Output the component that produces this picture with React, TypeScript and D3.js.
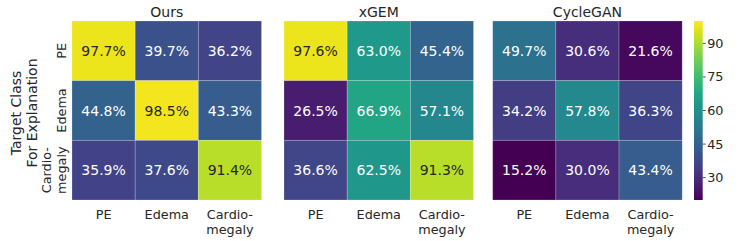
import React from "react";
import * as d3 from "d3";

const methods = ["Ours", "xGEM", "CycleGAN"];
const rowLabels = [["PE"], ["Edema"], ["Cardio-", "megaly"]];
const colLabels = [["PE"], ["Edema"], ["Cardio-", "megaly"]];
const oursValues = [
  [97.7, 39.7, 36.2],
  [44.8, 98.5, 43.3],
  [35.9, 37.6, 91.4],
];
const xgemValues = [
  [97.6, 63.0, 45.4],
  [26.5, 66.9, 57.1],
  [36.6, 62.5, 91.3],
];
const cycleganValues = [
  [49.7, 30.6, 21.6],
  [34.2, 57.8, 36.3],
  [15.2, 30.0, 43.4],
];
const colorTicks = [30, 45, 60, 75, 90];
const colorDomain = [20, 100];

const panels = [oursValues, xgemValues, cycleganValues];
const panelX = [72, 284, 492.7];
const W = 747;
const H = 241;
const top = 21;
const bottom = 200;
const pw = 189.5;
const textColor = "#262626";
const font = "DejaVu Sans, sans-serif";

export default function App() {
  const color = d3
    .scaleSequential(d3.interpolateViridis)
    .domain(colorDomain)
    .clamp(true);
  const y = d3.scaleBand<number>().domain([0, 1, 2]).range([top, bottom]);
  const cbY = d3.scaleLinear().domain(colorDomain).range([bottom, top]);
  const cbX0 = 694;
  const cbW = 8.7;
  const gradStops = d3.range(0, 1.0001, 0.05);

  return (
    <svg
      width={W}
      height={H}
      style={{ position: "absolute", left: 0, top: 0, fontFamily: font }}
    >
      <defs>
        <linearGradient id="cb" x1="0" y1="1" x2="0" y2="0">
          {gradStops.map((t) => (
            <stop key={t} offset={t} stopColor={d3.interpolateViridis(t)} />
          ))}
        </linearGradient>
      </defs>
      <rect width={W} height={H} fill="#fff" />
      {panels.map((vals, pi) => {
        const x = d3
          .scaleBand<number>()
          .domain([0, 1, 2])
          .range([panelX[pi], panelX[pi] + pw]);
        return (
          <g key={pi}>
            <text
              x={panelX[pi] + pw / 2}
              y={17}
              textAnchor="middle"
              fontSize={14}
              fill={textColor}
            >
              {methods[pi]}
            </text>
            {vals.map((row, ri) =>
              row.map((v, ci) => {
                const c = color(v);
                const light = d3.lab(c).l > 70;
                return (
                  <g key={`${ri}-${ci}`}>
                    <rect
                      x={x(ci)}
                      y={y(ri)}
                      width={x.bandwidth()}
                      height={y.bandwidth()}
                      fill={c}
                      stroke="#ffffff"
                      strokeOpacity={0.25}
                      strokeWidth={0.8}
                    />
                    <text
                      x={(x(ci) as number) + x.bandwidth() / 2}
                      y={(y(ri) as number) + y.bandwidth() / 2}
                      textAnchor="middle"
                      dominantBaseline="central"
                      fontSize={14}
                      fill={light ? textColor : "#ffffff"}
                    >
                      {v.toFixed(1)}%
                    </text>
                  </g>
                );
              })
            )}
            {colLabels.map((lines, ci) => (
              <text
                key={ci}
                x={(x(ci) as number) + x.bandwidth() / 2}
                y={219}
                textAnchor="middle"
                fontSize={12.8}
                fill={textColor}
              >
                {lines.map((l, li) => (
                  <tspan
                    key={li}
                    x={(x(ci) as number) + x.bandwidth() / 2}
                    dy={li === 0 ? 0 : 14.5}
                  >
                    {l}
                  </tspan>
                ))}
              </text>
            ))}
            {pi === 0 &&
              rowLabels.map((lines, ri) => {
                const cy = (y(ri) as number) + y.bandwidth() / 2;
                const n = lines.length;
                return lines.map((l, li) => {
                  const bx = 66 - (n - 1 - li) * 15;
                  return (
                    <text
                      key={`${ri}-${li}`}
                      transform={`translate(${bx},${cy}) rotate(-90)`}
                      textAnchor="middle"
                      fontSize={12.8}
                      fill={textColor}
                    >
                      {l}
                    </text>
                  );
                });
              })}
          </g>
        );
      })}
      {["Target Class", "For Explanation"].map((l, i) => (
        <text
          key={i}
          transform={`translate(${21 + i * 16},113) rotate(-90)`}
          textAnchor="middle"
          fontSize={14}
          fill={textColor}
        >
          {l}
        </text>
      ))}
      <rect x={cbX0} y={top} width={cbW} height={bottom - top} fill="url(#cb)" />
      {colorTicks.map((t) => (
        <g key={t}>
          <line
            x1={cbX0 + cbW}
            x2={cbX0 + cbW + 3}
            y1={cbY(t)}
            y2={cbY(t)}
            stroke={textColor}
            strokeWidth={0.8}
          />
          <text
            x={cbX0 + cbW + 4.5}
            y={cbY(t)}
            dominantBaseline="central"
            fontSize={12.8}
            fill={textColor}
          >
            {t}
          </text>
        </g>
      ))}
    </svg>
  );
}
